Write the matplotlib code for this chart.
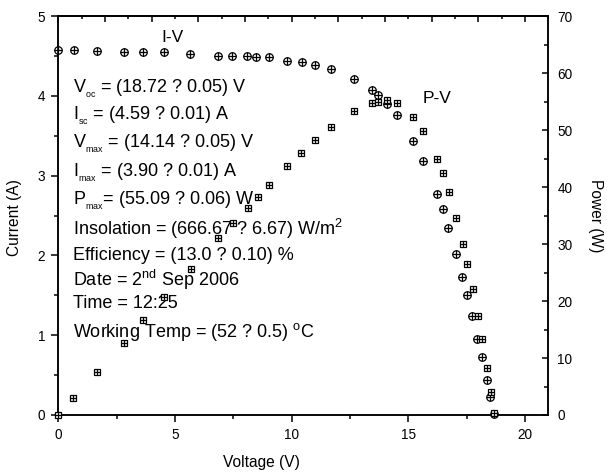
import matplotlib
matplotlib.use("Agg")
import matplotlib.pyplot as plt
from matplotlib.ticker import MultipleLocator

plt.rcParams['font.family'] = ['Liberation Sans', 'DejaVu Sans']
plt.rcParams['mathtext.fontset'] = 'custom'
plt.rcParams['mathtext.rm'] = 'Liberation Sans'
plt.rcParams['mathtext.it'] = 'Liberation Sans:italic'

# Measured module data
voltage = [0.00, 0.67, 1.65, 2.81, 3.64, 4.53, 5.64, 6.86, 7.43, 8.07, 8.47, 9.01,
           9.81, 10.43, 11.00, 11.67, 12.67, 13.43, 13.71, 14.10, 14.50, 15.21,
           15.64, 16.21, 16.47, 16.71, 17.04, 17.31, 17.50, 17.71, 17.95, 18.14,
           18.38, 18.50, 18.68]
current = [4.58, 4.58, 4.56, 4.55, 4.55, 4.55, 4.53, 4.50, 4.50, 4.50, 4.49, 4.49,
           4.44, 4.42, 4.38, 4.33, 4.21, 4.07, 4.01, 3.90, 3.76, 3.43,
           3.18, 2.77, 2.58, 2.34, 2.02, 1.73, 1.50, 1.24, 0.95, 0.73,
           0.44, 0.22, 0.01]
power_v = [0.00, 0.64, 1.65, 2.81, 3.64, 4.51, 5.67, 6.86, 7.47, 8.14, 8.57, 9.04,
           9.79, 10.40, 11.00, 11.67, 12.67, 13.43, 13.71, 14.10, 14.50, 15.21,
           15.64, 16.21, 16.47, 16.73, 17.04, 17.33, 17.50, 17.76, 17.99, 18.14,
           18.38, 18.53, 18.68]
power = [0.0, 2.9, 7.5, 12.7, 16.7, 20.7, 25.6, 31.0, 33.7, 36.4, 38.3, 40.4,
         43.7, 45.9, 48.2, 50.5, 53.4, 54.8, 55.0, 55.3, 54.7, 52.2,
         49.8, 45.0, 42.5, 39.2, 34.5, 29.95, 26.5, 22.1, 17.4, 13.3,
         8.2, 4.1, 0.3]

info_lines = [
    r'V$_{{}_{\rm oc}}$ = (18.72 ? 0.05) V',
    r'I$_{{}_{\rm sc}}$ = (4.59 ? 0.01) A',
    r'V$_{{}_{\rm max}}$ = (14.14 ? 0.05) V',
    r'I$_{{}_{\rm max}}$ = (3.90 ? 0.01) A',
    r'P$_{{}_{\rm max}}$= (55.09 ? 0.06) W',
    r'Insolation = (666.67 ? 6.67) W/m$^{\rm 2}$',
    r'Efficiency = (13.0 ? 0.10) %',
    r'Date = 2$^{\rm nd}$ Sep 2006',
    r'Time = 12:25',
    r'Working Temp = (52 ? 0.5) $^{\rm o}$C',
]
info_baseline_px = [92.7, 120, 148.3, 176.7, 205, 235, 260, 286, 308.3, 336.7]

W, H = 607, 475
fig = plt.figure(figsize=(W / 100, H / 100), dpi=100)
x0, x1, y0, y1 = 58.3, 548.3, 16, 415
ax = fig.add_axes([x0 / W, 1 - y1 / H, (x1 - x0) / W, (y1 - y0) / H])
ax2 = ax.twinx()

ax.set_xlim(0, 21)
ax.set_ylim(0, 5)
ax2.set_ylim(0, 70)

lw = 1.1
for a in (ax, ax2):
    for s in a.spines.values():
        s.set_linewidth(lw)

# I-V curve: circle with cross
ms_c = 5.4
ax.plot(voltage, current, ls='none', marker='o', ms=ms_c, mfc='white', mec='black',
        mew=0.9, clip_on=False, zorder=3)
ax.plot(voltage, current, ls='none', marker='+', ms=ms_c, mec='black',
        mew=0.9, clip_on=False, zorder=4)

# P-V curve: square with cross
ms_s = 4.3
ax2.plot(power_v, power, ls='none', marker='s', ms=ms_s, mfc='white', mec='black',
         mew=0.9, clip_on=False, zorder=3)
ax2.plot(power_v, power, ls='none', marker='+', ms=ms_s, mec='black',
         mew=0.9, clip_on=False, zorder=4)

tick_fs = 9.8
ax.xaxis.set_major_locator(MultipleLocator(5))
ax.xaxis.set_minor_locator(MultipleLocator(2.5))
ax.yaxis.set_major_locator(MultipleLocator(1))
ax.yaxis.set_minor_locator(MultipleLocator(0.5))
ax.tick_params(axis='both', which='major', direction='out', length=5, width=lw,
               labelsize=tick_fs, pad=4.5)
ax.tick_params(axis='both', which='minor', direction='out', length=3, width=lw)
ax.tick_params(top=False, right=False, which='both')

ax2.yaxis.set_major_locator(MultipleLocator(10))
ax2.yaxis.set_minor_locator(MultipleLocator(5))
ax2.tick_params(axis='y', which='major', direction='in', length=4.5, width=lw,
                labelsize=tick_fs, pad=6.5)
ax2.tick_params(axis='y', which='minor', direction='in', length=3, width=lw)

top = ax.secondary_xaxis('top')
top.xaxis.set_major_locator(MultipleLocator(2))
top.xaxis.set_minor_locator(MultipleLocator(1))
top.tick_params(which='major', direction='in', length=4, width=lw, labeltop=False)
top.tick_params(which='minor', direction='in', length=2.5, width=lw)
top.spines['top'].set_linewidth(lw)

label_fs = 11.2
fig.text(261 / W, 1 - 462 / H, 'Voltage (V)', ha='center', va='center', fontsize=label_fs)
fig.text(15 / W, 1 - 218 / H, 'Current (A)', ha='center', va='center',
         rotation=90, fontsize=label_fs)
fig.text(595 / W, 1 - 216 / H, 'Power (W)', ha='center', va='center',
         rotation=270, fontsize=label_fs)

def px_to_current(py):
    return (y1 - py) / (y1 - y0) * 5

ax.text(4.9, px_to_current(41.5), 'I-V', ha='center', va='baseline', fontsize=12.5)
ax.text(16.25, px_to_current(103), 'P-V', ha='center', va='baseline', fontsize=12.5)

for line, by in zip(info_lines, info_baseline_px):
    ax.text(0.64, px_to_current(by), line, ha='left', va='baseline', fontsize=13,
            zorder=2)

fig.savefig('out.png', dpi=100)
